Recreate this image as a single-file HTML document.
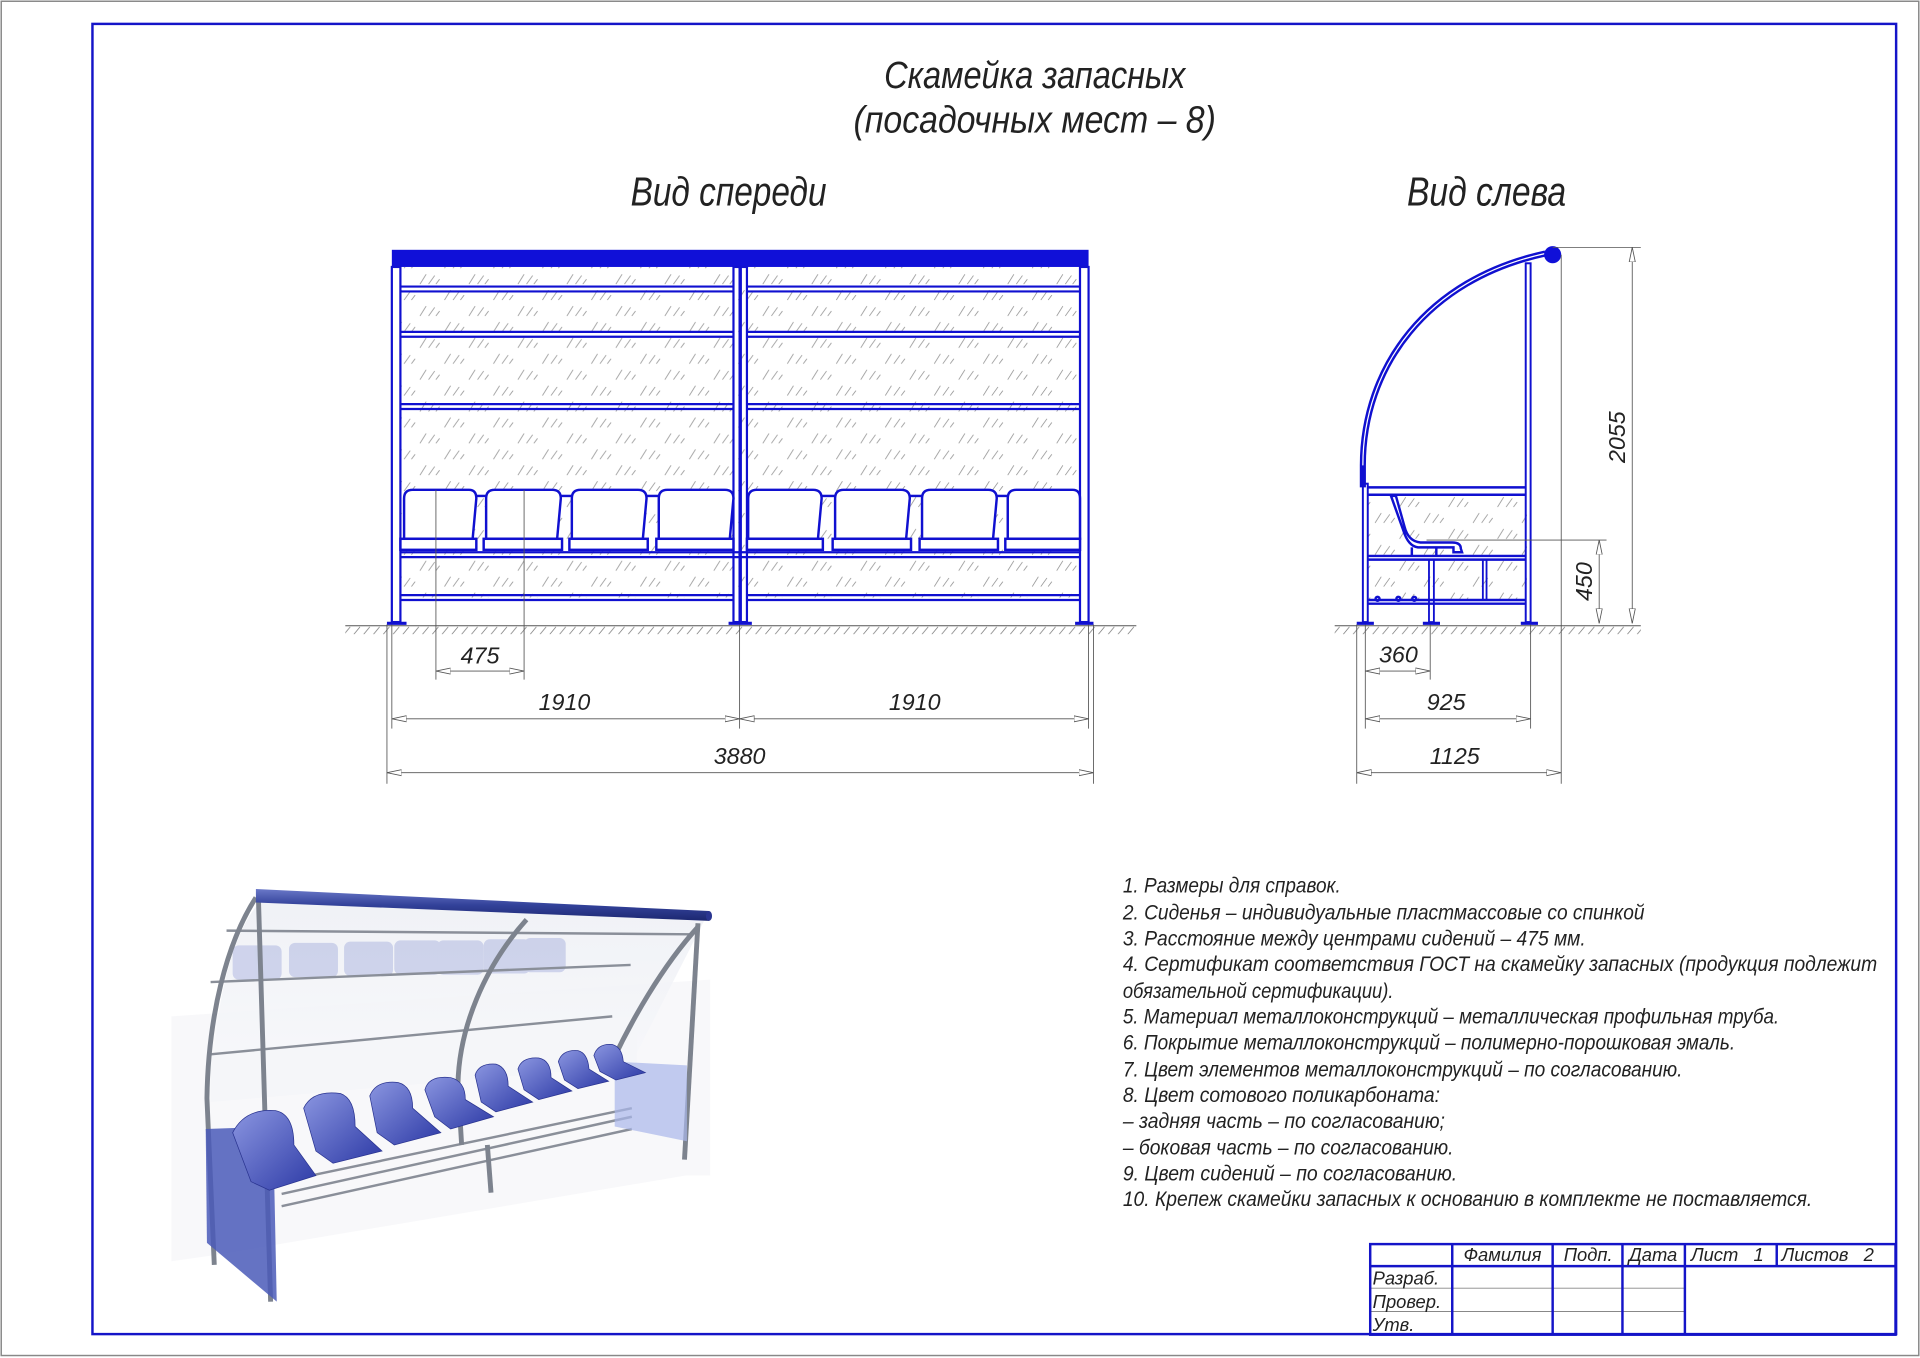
<!DOCTYPE html>
<html><head><meta charset="utf-8"><style>
html,body{margin:0;padding:0;background:#fff;}
svg{display:block;}
text{font-family:"Liberation Sans Narrow","Liberation Sans","DejaVu Sans",sans-serif;font-style:italic;fill:#222;}
</style></head><body>
<svg width="1920" height="1358" viewBox="0 0 1568 1109" xmlns="http://www.w3.org/2000/svg">
<defs>
<pattern id="h" width="40" height="26" patternUnits="userSpaceOnUse">
<g stroke="#888" stroke-width="0.6" fill="none">
<line x1="3" y1="11" x2="8" y2="3"/><line x1="10" y1="11" x2="15" y2="4"/><line x1="16" y1="11" x2="19" y2="7"/>
<line x1="23" y1="24" x2="28" y2="16"/><line x1="30" y1="24" x2="35" y2="17"/><line x1="36" y1="24" x2="39" y2="20"/>
</g></pattern>
<pattern id="g" width="8" height="7" patternUnits="userSpaceOnUse">
<line x1="1" y1="7" x2="6" y2="1" stroke="#777" stroke-width="0.6"/></pattern>
<linearGradient id="tube" x1="0" y1="0" x2="0" y2="1"><stop offset="0" stop-color="#6a78c8"/><stop offset="0.5" stop-color="#33429a"/><stop offset="1" stop-color="#1c2770"/></linearGradient>
<linearGradient id="seat" x1="0" y1="0" x2="1" y2="1"><stop offset="0" stop-color="#8a95e0"/><stop offset="1" stop-color="#2d3aa6"/></linearGradient>
<linearGradient id="glass" x1="0" y1="0" x2="0" y2="1"><stop offset="0" stop-color="#eef0f5"/><stop offset="1" stop-color="#f6f7fa"/></linearGradient>
<marker id="a" viewBox="0 0 12 6" refX="12" refY="3" markerWidth="12" markerHeight="6" markerUnits="userSpaceOnUse" orient="auto-start-reverse"><path d="M0 0.5L12 3L0 5.5Z" fill="#fff" stroke="#555" stroke-width="0.7"/></marker>
</defs>

<rect x="1" y="1" width="1566" height="1106" fill="none" stroke="#888" stroke-width="1.2"/>
<rect x="75.5" y="19.5" width="1473" height="1070" fill="none" stroke="#1414c8" stroke-width="2"/>

<text x="845" y="72" font-size="31" text-anchor="middle" textLength="246" lengthAdjust="spacingAndGlyphs">Скамейка запасных</text>
<text x="845" y="108" font-size="31" text-anchor="middle" textLength="296" lengthAdjust="spacingAndGlyphs">(посадочных мест – 8)</text>
<text x="595" y="168" font-size="33" text-anchor="middle" textLength="160" lengthAdjust="spacingAndGlyphs">Вид спереди</text>
<text x="1214" y="168" font-size="33" text-anchor="middle" textLength="130" lengthAdjust="spacingAndGlyphs">Вид слева</text>

<!-- FRONT VIEW -->
<rect x="327" y="218" width="555" height="270" fill="url(#h)"/>
<rect x="320" y="204" width="569" height="14" fill="#1010d8"/>
<g stroke="#1010d0" stroke-width="1.8" fill="none">
<rect x="320" y="218" width="7" height="290"/>
<rect x="882" y="218" width="7" height="290"/>
<rect x="599" y="218" width="5" height="290"/>
<rect x="605" y="218" width="5" height="290"/>
<line x1="327" y1="234" x2="599" y2="234"/><line x1="327" y1="238" x2="599" y2="238"/>
<line x1="610" y1="234" x2="882" y2="234"/><line x1="610" y1="238" x2="882" y2="238"/>
<line x1="327" y1="271" x2="599" y2="271"/><line x1="327" y1="275" x2="599" y2="275"/>
<line x1="610" y1="271" x2="882" y2="271"/><line x1="610" y1="275" x2="882" y2="275"/>
<line x1="327" y1="330" x2="599" y2="330"/><line x1="327" y1="334" x2="599" y2="334"/>
<line x1="610" y1="330" x2="882" y2="330"/><line x1="610" y1="334" x2="882" y2="334"/>
<line x1="327" y1="451" x2="882" y2="451"/><line x1="327" y1="455" x2="882" y2="455"/>
<line x1="327" y1="486" x2="599" y2="486"/><line x1="327" y1="490" x2="599" y2="490"/>
<line x1="610" y1="486" x2="882" y2="486"/><line x1="610" y1="490" x2="882" y2="490"/>
<line x1="316" y1="509" x2="332" y2="509" stroke-width="2.5"/>
<line x1="595" y1="509" x2="614" y2="509" stroke-width="2.5"/>
<line x1="878" y1="509" x2="893" y2="509" stroke-width="2.5"/>
</g>
<g stroke="#1010d0" stroke-width="2" fill="#fff">
<path d="M330 440 L330 407 Q330 400 337 400 L383 400 Q389 400 389 407 L386 440 Z"/>
<path d="M397 440 L397 407 Q397 400 404 400 L451 400 Q458 400 458 407 L455 440 Z"/>
<path d="M467 440 L467 407 Q467 400 474 400 L521 400 Q528 400 528 407 L525 440 Z"/>
<path d="M538 440 L538 407 Q538 400 545 400 L592 400 Q599 400 599 407 L596 440 Z"/>
<path d="M611 440 L611 407 Q611 400 618 400 L664 400 Q671 400 671 407 L668 440 Z"/>
<path d="M682 440 L682 407 Q682 400 689 400 L736 400 Q743 400 743 407 L740 440 Z"/>
<path d="M753 440 L753 407 Q753 400 760 400 L807 400 Q814 400 814 407 L811 440 Z"/>
<path d="M823 440 L823 407 Q823 400 830 400 L876 400 Q882 400 882 407 L882 440 Z"/>
<rect x="327" y="440" width="62" height="9"/><rect x="395" y="440" width="64" height="9"/>
<rect x="465" y="440" width="64" height="9"/><rect x="536" y="440" width="63" height="9"/>
<rect x="610" y="440" width="62" height="9"/><rect x="680" y="440" width="64" height="9"/>
<rect x="751" y="440" width="64" height="9"/><rect x="821" y="440" width="61" height="9"/>
<line x1="389" y1="405" x2="397" y2="405"/><line x1="458" y1="405" x2="467" y2="405"/><line x1="528" y1="405" x2="538" y2="405"/>
<line x1="671" y1="405" x2="682" y2="405"/><line x1="743" y1="405" x2="753" y2="405"/><line x1="814" y1="405" x2="823" y2="405"/>
</g>
<rect x="282" y="511" width="646" height="7" fill="url(#g)"/>
<line x1="282" y1="511" x2="928" y2="511" stroke="#555" stroke-width="0.8"/>
<g stroke="#555" stroke-width="0.7" fill="none">
<line x1="356" y1="400" x2="356" y2="555"/><line x1="428" y1="400" x2="428" y2="555"/>
<line x1="320" y1="510" x2="320" y2="595"/><line x1="889" y1="510" x2="889" y2="595"/>
<line x1="604" y1="510" x2="604" y2="595"/>
<line x1="316" y1="510" x2="316" y2="640"/><line x1="893" y1="510" x2="893" y2="640"/>
<line x1="356" y1="548" x2="428" y2="548" marker-start="url(#a)" marker-end="url(#a)"/>
<line x1="320" y1="587" x2="604" y2="587" marker-start="url(#a)" marker-end="url(#a)"/>
<line x1="604" y1="587" x2="889" y2="587" marker-start="url(#a)" marker-end="url(#a)"/>
<line x1="316" y1="631" x2="893" y2="631" marker-start="url(#a)" marker-end="url(#a)"/>
</g>
<g font-size="19" text-anchor="middle">
<text x="392" y="542">475</text><text x="461" y="580">1910</text><text x="747" y="580">1910</text><text x="604" y="624">3880</text>
</g>

<!-- SIDE VIEW -->
<rect x="1117" y="404" width="130" height="86" fill="url(#h)"/>
<g stroke="#1010d0" stroke-width="2" fill="none">
<path d="M1113 398 L1113 380 C1113 300, 1165 228, 1262 207" stroke-width="5"/>
<path d="M1113 380 C1113 300, 1165 228, 1262 207" stroke="#fff" stroke-width="1"/>
<rect x="1246" y="215" width="4" height="293" stroke-width="1.6"/>
<rect x="1113" y="395" width="4" height="113" stroke-width="1.6"/>
<line x1="1117" y1="398" x2="1246" y2="398"/><line x1="1117" y1="404" x2="1246" y2="404"/>
<line x1="1117" y1="454" x2="1246" y2="454"/><line x1="1117" y1="457" x2="1246" y2="457"/>
<line x1="1117" y1="490" x2="1246" y2="490"/><line x1="1117" y1="493" x2="1246" y2="493"/>
<rect x="1167" y="457" width="4" height="51" stroke-width="1.5"/>
<rect x="1211" y="457" width="3" height="33" stroke-width="1.5"/>
<path d="M1140 405 L1147 430 Q1150 442 1160 443 L1186 443 Q1193 443 1193 448 L1194 451 L1187 451 L1187 447 L1158 447 Q1150 446 1146 433 L1136 405 Z" fill="#fff"/>
<line x1="1153" y1="447" x2="1153" y2="454"/><line x1="1173" y1="447" x2="1173" y2="454"/>
<circle cx="1125" cy="489" r="1.6"/><circle cx="1142" cy="489" r="1.6"/><circle cx="1155" cy="489" r="1.6"/>
<line x1="1108" y1="509" x2="1122" y2="509" stroke-width="2.5"/><line x1="1162" y1="509" x2="1176" y2="509" stroke-width="2.5"/><line x1="1242" y1="509" x2="1256" y2="509" stroke-width="2.5"/>
</g>
<circle cx="1268" cy="208" r="7" fill="#1010d8"/>
<rect x="1090" y="511" width="250" height="7" fill="url(#g)"/>
<line x1="1090" y1="511" x2="1340" y2="511" stroke="#555" stroke-width="0.8"/>
<g stroke="#555" stroke-width="0.7" fill="none">
<line x1="1268" y1="202" x2="1340" y2="202"/>
<line x1="1165" y1="441" x2="1312" y2="441"/>
<line x1="1275" y1="208" x2="1275" y2="640"/>
<line x1="1333" y1="202" x2="1333" y2="509" marker-start="url(#a)" marker-end="url(#a)"/>
<line x1="1306" y1="441" x2="1306" y2="509" marker-start="url(#a)" marker-end="url(#a)"/>
<line x1="1115" y1="510" x2="1115" y2="595"/><line x1="1168" y1="510" x2="1168" y2="555"/>
<line x1="1250" y1="510" x2="1250" y2="595"/><line x1="1108" y1="510" x2="1108" y2="640"/>
<line x1="1115" y1="548" x2="1168" y2="548" marker-start="url(#a)" marker-end="url(#a)"/>
<line x1="1115" y1="587" x2="1250" y2="587" marker-start="url(#a)" marker-end="url(#a)"/>
<line x1="1108" y1="631" x2="1275" y2="631" marker-start="url(#a)" marker-end="url(#a)"/>
</g>
<g font-size="19" text-anchor="middle">
<text x="1142" y="541">360</text><text x="1181" y="580">925</text><text x="1188" y="624">1125</text>
<text transform="translate(1327 357) rotate(-90)">2055</text>
<text transform="translate(1300 475) rotate(-90)">450</text>
</g>

<!-- 3D render -->
<g>
<path d="M140 1030 L175 1025 L560 960 L580 960 L580 800 L140 830 Z" fill="#f3f4f6" opacity="0.6"/>
<path d="M175 860 C180 790 200 745 215 735 L575 752 L520 860 Z" fill="url(#glass)" opacity="0.9"/>
<path d="M172 900 L172 860 L520 830 L520 870 Z" fill="#f5f6f9"/>
<g fill="#c5cbe8" opacity="0.8">
<rect x="190" y="772" width="40" height="28" rx="5"/><rect x="236" y="770" width="40" height="28" rx="5"/>
<rect x="281" y="769" width="40" height="28" rx="5"/><rect x="322" y="768" width="38" height="28" rx="5"/>
<rect x="357" y="768" width="38" height="28" rx="5"/><rect x="395" y="767" width="38" height="28" rx="5"/>
<rect x="428" y="766" width="34" height="28" rx="5"/>
</g>
<g stroke="#8a8f99" stroke-width="2" fill="none">
<line x1="185" y1="760" x2="565" y2="763"/>
<line x1="172" y1="802" x2="515" y2="788"/>
<line x1="172" y1="861" x2="500" y2="830"/>
<line x1="230" y1="985" x2="516" y2="922"/>
<line x1="230" y1="975" x2="516" y2="912"/>
<line x1="230" y1="965" x2="516" y2="905"/>
</g>
<g stroke="#7d838e" stroke-width="4" fill="none">
<path d="M209 733 C185 770 170 830 169 897 L175 1033"/>
<line x1="211" y1="732" x2="221" y2="1063"/>
<path d="M430 751 C395 790 375 840 374 885 L377 935"/>
<path d="M570 757 C540 790 515 835 500 867"/>
<line x1="570" y1="754" x2="559" y2="947"/>
<line x1="398" y1="935" x2="401" y2="974"/>
</g>
<path d="M168 922 L223 920 L226 1063 L169 1015 Z" fill="#4a5ab8" opacity="0.85"/>
<path d="M502 867 L561 870 L561 932 L502 920 Z" fill="#a9b6ea" opacity="0.7"/>
<g fill="url(#seat)" stroke="#2a3490" stroke-width="0.6">
<path d="M190 925 Q200 905 225 907 Q240 910 240 935 L258 960 L220 972 L205 965 Z"/>
<path d="M248 905 Q255 890 278 893 Q290 897 290 920 L312 940 L272 950 L258 940 Z"/>
<path d="M302 895 Q307 882 325 884 Q337 887 337 905 L360 925 L322 935 L308 925 Z"/>
<path d="M347 890 Q350 878 368 880 Q380 883 380 898 L403 912 L368 922 L355 912 Z"/>
<path d="M388 878 Q391 868 405 869 Q415 872 415 887 L435 900 L405 908 L393 900 Z"/>
<path d="M423 873 Q426 863 440 864 Q450 866 450 880 L467 891 L440 898 L428 890 Z"/>
<path d="M456 867 Q459 857 472 858 Q480 860 481 873 L497 883 L472 889 L461 882 Z"/>
<path d="M485 862 Q488 852 500 853 Q508 855 509 867 L527 876 L503 882 L490 875 Z"/>
</g>
<path d="M209 726 L579 744 L579 752 L209 737 Z" fill="url(#tube)"/>
<ellipse cx="579" cy="748" rx="2.5" ry="4" fill="#2a3590"/>
</g>

<g font-size="17.5">
<text x="917" y="729" textLength="178" lengthAdjust="spacingAndGlyphs">1.  Размеры для справок.</text>
<text x="917" y="751" textLength="426" lengthAdjust="spacingAndGlyphs">2.  Сиденья – индивидуальные пластмассовые со спинкой</text>
<text x="917" y="772" textLength="378" lengthAdjust="spacingAndGlyphs">3.  Расстояние между центрами сидений – 475 мм.</text>
<text x="917" y="793" textLength="616" lengthAdjust="spacingAndGlyphs">4.  Сертификат соответствия ГОСТ на скамейку запасных (продукция подлежит</text>
<text x="917" y="815" textLength="221" lengthAdjust="spacingAndGlyphs">обязательной сертификации).</text>
<text x="917" y="836" textLength="536" lengthAdjust="spacingAndGlyphs">5.  Материал металлоконструкций – металлическая профильная труба.</text>
<text x="917" y="857" textLength="500" lengthAdjust="spacingAndGlyphs">6.  Покрытие металлоконструкций – полимерно-порошковая эмаль.</text>
<text x="917" y="879" textLength="457" lengthAdjust="spacingAndGlyphs">7.  Цвет элементов металлоконструкций – по согласованию.</text>
<text x="917" y="900" textLength="259" lengthAdjust="spacingAndGlyphs">8.  Цвет сотового поликарбоната:</text>
<text x="917" y="921" textLength="263" lengthAdjust="spacingAndGlyphs">– задняя часть – по согласованию;</text>
<text x="917" y="943" textLength="270" lengthAdjust="spacingAndGlyphs">– боковая часть – по согласованию.</text>
<text x="917" y="964" textLength="273" lengthAdjust="spacingAndGlyphs">9.  Цвет сидений – по согласованию.</text>
<text x="917" y="985" textLength="563" lengthAdjust="spacingAndGlyphs">10.  Крепеж скамейки запасных к основанию в комплекте не поставляется.</text>
</g>

<g stroke="#888" stroke-width="0.8">
<line x1="1119" y1="1052" x2="1376" y2="1052"/><line x1="1119" y1="1071" x2="1376" y2="1071"/>
</g>
<g stroke="#1414c8" stroke-width="2" fill="none">
<rect x="1119" y="1016" width="429" height="74"/>
<line x1="1119" y1="1034" x2="1548" y2="1034"/>
<line x1="1186" y1="1016" x2="1186" y2="1090"/><line x1="1268" y1="1016" x2="1268" y2="1090"/>
<line x1="1325" y1="1016" x2="1325" y2="1090"/><line x1="1376" y1="1016" x2="1376" y2="1090"/>
<line x1="1451" y1="1016" x2="1451" y2="1034"/>
</g>
<g font-size="15">
<text x="1227" y="1030" text-anchor="middle">Фамилия</text>
<text x="1297" y="1030" text-anchor="middle">Подп.</text>
<text x="1350" y="1030" text-anchor="middle">Дата</text>
<text x="1381" y="1030">Лист</text><text x="1432" y="1030">1</text>
<text x="1455" y="1030">Листов</text><text x="1522" y="1030">2</text>
<text x="1121" y="1049">Разраб.</text>
<text x="1121" y="1068">Провер.</text>
<text x="1121" y="1087">Утв.</text>
</g>
</svg>
</body></html>
